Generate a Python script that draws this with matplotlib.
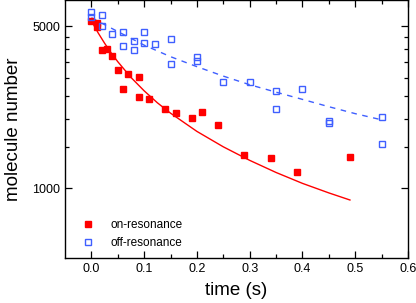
import matplotlib.pyplot as plt
from matplotlib.ticker import FixedLocator, NullFormatter

plt.rcParams['font.family'] = ['Liberation Sans', 'DejaVu Sans']

# on-resonance data (filled red squares)
t_on = [0.0, 0.01, 0.01, 0.02, 0.03, 0.04, 0.05, 0.06, 0.07, 0.09, 0.09,
        0.11, 0.14, 0.16, 0.19, 0.21, 0.24, 0.29, 0.34, 0.39, 0.49]
n_on = [5300, 5170, 4970, 3970, 3990, 3740, 3230, 2680, 3130, 3020, 2480,
        2430, 2200, 2120, 2010, 2130, 1880, 1390, 1350, 1170, 1370]

# off-resonance data (open blue squares)
t_off = [0.0, 0.0, 0.02, 0.02, 0.04, 0.06, 0.06, 0.08, 0.08, 0.10, 0.10,
         0.12, 0.15, 0.15, 0.20, 0.20, 0.25, 0.30, 0.35, 0.35, 0.40, 0.45,
         0.45, 0.55, 0.55]
n_off = [5750, 5500, 5620, 5035, 4640, 4730, 4100, 4330, 3940, 4730, 4250,
         4210, 4410, 3440, 3670, 3530, 2880, 2890, 2640, 2200, 2690, 1960,
         1910, 2035, 1555]

# fit curves
t_fit_on = [0.0, 0.0125, 0.025, 0.0375, 0.05, 0.075, 0.1, 0.125, 0.15, 0.2,
            0.25, 0.3, 0.35, 0.4, 0.45, 0.49]
n_fit_on = [5300, 4700, 4230, 3840, 3520, 3010, 2635, 2340, 2110, 1760,
            1510, 1320, 1170, 1050, 955, 890]
t_fit_off = [0.0, 0.05, 0.1, 0.15, 0.2, 0.25, 0.3, 0.35, 0.4, 0.45, 0.5, 0.55]
n_fit_off = [5450, 4750, 4150, 3700, 3350, 3050, 2800, 2600, 2420, 2250,
             2100, 1975]

red = '#ff0000'
blue = '#3f5fff'

fig = plt.figure(figsize=(4.16, 3.03), dpi=100)
ax = fig.add_axes([65 / 416, 1 - 258 / 303, 343 / 416, 258 / 303])

ax.plot(t_fit_on, n_fit_on, color=red, lw=1.0)
ax.plot(t_fit_off, n_fit_off, color=blue, lw=1.0, dashes=(4, 4))
ax.plot(t_on, n_on, 's', color=red, ms=5, mec=red, label='on-resonance')
ax.plot(t_off, n_off, 's', mfc='none', mec=blue, ms=5, mew=1.0,
        label='off-resonance')

ax.set_yscale('log')
ax.set_xlim(-0.05, 0.6)
ax.set_ylim(500, 6500)

ax.set_xticks([0.0, 0.1, 0.2, 0.3, 0.4, 0.5, 0.6])
ax.set_xticklabels(['0.0', '0.1', '0.2', '0.3', '0.4', '0.5', '0.6'])
ax.xaxis.set_minor_locator(FixedLocator([0.05, 0.15, 0.25, 0.35, 0.45, 0.55]))
ax.yaxis.set_major_locator(FixedLocator([1000, 5000]))
ax.set_yticklabels(['1000', '5000'])
ax.yaxis.set_minor_locator(FixedLocator([1500, 2000, 2500, 3000, 3500, 4000, 4500]))
ax.yaxis.set_minor_formatter(NullFormatter())

ax.tick_params(which='both', direction='in', top=True, right=True,
               labelsize=9, width=0.9)
ax.tick_params(which='major', length=5)
ax.tick_params(which='minor', length=3)
for s in ax.spines.values():
    s.set_linewidth(1.0)

ax.set_xlabel('time (s)', fontsize=13.5, labelpad=5)
ax.set_ylabel('molecule number', fontsize=13.5, labelpad=7)

ax.legend(loc='lower left', bbox_to_anchor=(0.035, 0.015), borderaxespad=0,
          frameon=False, fontsize=8.5, handlelength=1, handletextpad=1.4,
          labelspacing=0.55)

fig.savefig('out.png', dpi=100)
